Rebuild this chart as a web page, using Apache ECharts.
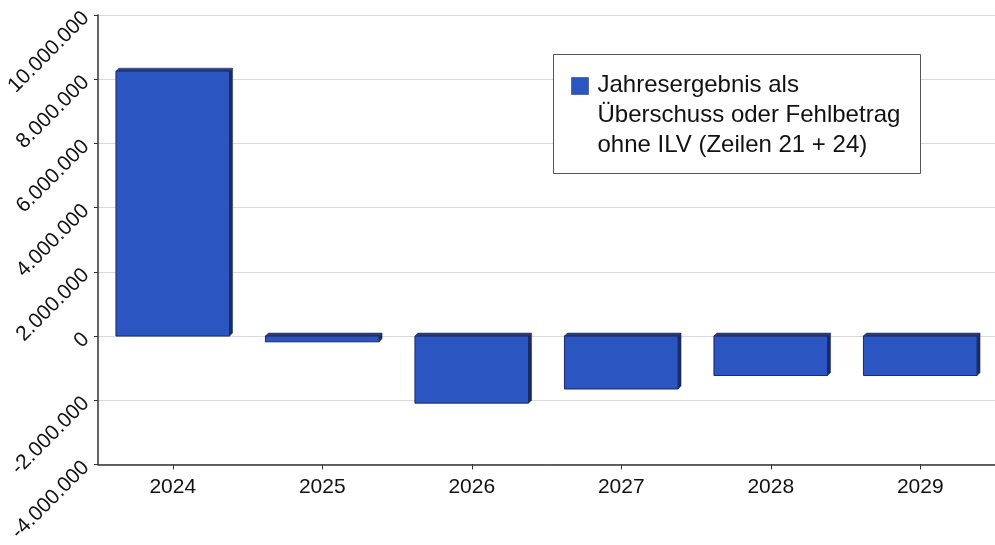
<!DOCTYPE html>
<html><head><meta charset="utf-8">
<script src="https://cdn.jsdelivr.net/npm/echarts@6/dist/echarts.min.js"></script>
<style>html,body{margin:0;padding:0;background:#fff;overflow:hidden}#c{width:995px;height:545px}</style>
</head><body><div id="c"></div>
<script>
const categories = ['2024','2025','2026','2027','2028','2029'];
const values = [8250000, -180000, -2090000, -1650000, -1230000, -1230000];
const seriesName = 'Jahresergebnis als\nÜberschuss oder Fehlbetrag\nohne ILV (Zeilen 21 + 24)';
const yMin = -4000000, yMax = 10000000, yInterval = 2000000;

const FRONT = '#2b55c0', EDGE = '#1b2a63', DEPTH = 3;
const FONT = '"Liberation Sans", Arial, sans-serif';
function fmt(v){ const s = Math.abs(v).toString().replace(/\B(?=(\d{3})+(?!\d))/g,'.'); return (v<0?'-':'')+s; }

const chart = echarts.init(document.getElementById('c'), null, {renderer:'canvas', width:995, height:545});
chart.setOption({
  animation:false,
  textStyle:{fontFamily:FONT},
  grid:{left:98, width:907, top:15, height:454, containLabel:false},
  xAxis:{type:'category', data:categories,
    axisLine:{onZero:false, lineStyle:{color:'#333', width:1.5}},
    axisTick:{show:true, alignWithLabel:true, length:5, lineStyle:{color:'#333'}},
    axisLabel:{color:'#111', fontSize:21, margin:12, fontFamily:FONT},
    splitLine:{show:false}},
  yAxis:{type:'value', min:yMin, max:yMax, interval:yInterval,
    axisLine:{show:true, lineStyle:{color:'#333', width:1.5}},
    axisTick:{show:true, length:4, lineStyle:{color:'#333'}},
    axisLabel:{rotate:45, color:'#111', fontSize:21, margin:12, formatter:fmt, fontFamily:FONT},
    splitLine:{show:true, lineStyle:{color:'#d9d9d9', width:1}}},
  series:[{
    type:'custom', name:seriesName,
    data: values.map((v,i)=>[i,v]),
    itemStyle:{color:FRONT},
    renderItem:function(params, api){
      const i = api.value(0), v = api.value(1);
      const p0 = api.coord([i,0]), p1 = api.coord([i,v]);
      const w = api.size([1,0])[0]*0.76;
      const x0 = p0[0]-w/2, x1 = p0[0]+w/2;
      const yt = Math.min(p0[1],p1[1]), yb = Math.max(p0[1],p1[1]);
      const d = DEPTH;
      return {type:'group', children:[
        {type:'polygon', shape:{points:[[x0,yt],[x0+d,yt-d],[x1+d,yt-d],[x1,yt]]}, style:{fill:'#2d3f7a', stroke:EDGE, lineWidth:0.5}},
        {type:'polygon', shape:{points:[[x1,yt],[x1+d,yt-d],[x1+d,yb-d],[x1,yb]]}, style:{fill:EDGE, stroke:EDGE, lineWidth:0.5}},
        {type:'rect', shape:{x:x0, y:yt, width:w, height:Math.max(yb-yt,1)}, style:{fill:FRONT, stroke:EDGE, lineWidth:1}}
      ]};
    }
  }],
  graphic:[{
    type:'group', left:553, top:54, z:100,
    children:[
      {type:'rect', z:100, shape:{x:0,y:0,width:367,height:119}, style:{fill:'#fff', stroke:'#555', lineWidth:1}},
      {type:'rect', z:101, shape:{x:18,y:23,width:17,height:17}, style:{fill:FRONT, stroke:EDGE, lineWidth:0.5}},
      {type:'text', z:101, x:44, y:16, style:{text:seriesName, fontSize:24, lineHeight:30, fill:'#111', fontFamily:FONT}}
    ]
  }]
});
</script></body></html>
